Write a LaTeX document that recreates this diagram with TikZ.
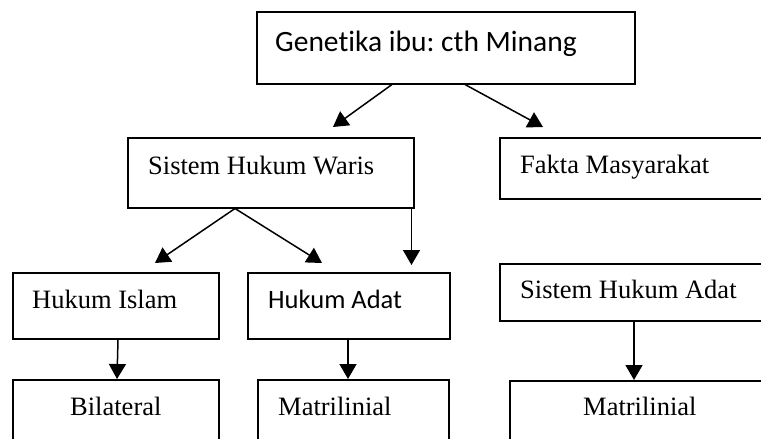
\documentclass[tikz,border=0pt]{standalone}
\usepackage{fontspec}
\setmainfont{Liberation Serif}
\newfontfamily\calibri[Ligatures=NoCommon]{Carlito}
\usetikzlibrary{arrows.meta,calc}
\frenchspacing

\begin{document}
\begin{tikzpicture}[x=1pt,y=-1pt]
        \useasboundingbox (0,0) rectangle (761,439);
        \clip (0,0) rectangle (761,439);
        \tikzstyle{kotak} = [draw,line width=1.5pt,anchor=north west,inner sep=0pt]
        \tikzstyle{isi} = [anchor=base west,inner sep=0pt,font=\fontsize{26.5}{30}\selectfont]
        \tikzstyle{panah} = [line width=1.5pt,-{Triangle[width=17pt,length=15pt]}]
        % top
        \node[kotak,minimum width=378pt,minimum height=72pt,
          label={[isi,xshift=19pt,yshift=-40pt,font=\calibri\fontsize{29.5}{34}\selectfont]north west:{Genetika ibu: cth Minang}}] (gen) at (256,11) {};
        % second row
        \node[kotak,minimum width=286pt,minimum height=70pt,
          label={[isi,xshift=21pt,yshift=-37pt]north west:{Sistem Hukum Waris}}] (shw) at (127,137) {};
        \node[kotak,minimum width=300pt,minimum height=61pt,
          label={[isi,xshift=21pt,yshift=-36pt]north west:{Fakta Masyarakat}}] (fakta) at (499,137) {};
        % third row
        \node[kotak,minimum width=206pt,minimum height=66pt,
          label={[isi,xshift=20pt,yshift=-36pt]north west:{Hukum Islam}}] (islam) at (12,272) {};
        \node[kotak,minimum width=202pt,minimum height=66pt,
          label={[isi,xshift=21pt,yshift=-36pt,font=\calibri\fontsize{26.5}{30}\selectfont]north west:{Hukum Adat}}] (adat) at (247,272) {};
        \node[kotak,minimum width=300pt,minimum height=57pt,
          label={[isi,xshift=21pt,yshift=-35pt]north west:{Sistem Hukum Adat}}] (sha) at (499,263) {};
        % bottom row
        \node[kotak,minimum width=206pt,minimum height=100pt,
          label={[isi,xshift=58pt,yshift=-36pt]north west:{Bilateral}}] (bil) at (12,379) {};
        \node[kotak,minimum width=191pt,minimum height=100pt,
          label={[isi,xshift=21pt,yshift=-36pt]north west:{Matrilinial}}] (matl) at (257,379) {};
        \node[kotak,minimum width=300pt,minimum height=100pt,
          label={[isi,xshift=74pt,yshift=-35pt]north west:{Matrilinial}}] (matr) at (509,380) {};
        % arrows
        \draw[panah] ($(gen.south west)+(136,0)$) -- ($(shw.north west)+(206,-10)$);
        \draw[panah] ($(gen.south west)+(209,0)$) -- ($(fakta.north west)+(44,-10)$);
        \draw[panah] ($(shw.south west)+(108,0)$) -- ($(islam.north west)+(143,-9)$);
        \draw[panah] ($(shw.south west)+(108,0)$) -- ($(adat.north west)+(75,-9)$);
        \draw[panah] ($(shw.south east)+(-3,0)$) -- ($(adat.north east)+(-39,-7)$);
        \draw[panah] ($(islam.south west)+(106,0)$) -- ($(bil.north west)+(105,0)$);
        \draw[panah] ($(adat.south west)+(101,0)$) -- ($(matl.north west)+(91,0)$);
        \draw[panah] ($(sha.south west)+(135,0)$) -- ($(matr.north west)+(125,0)$);
\end{tikzpicture}
\end{document}
